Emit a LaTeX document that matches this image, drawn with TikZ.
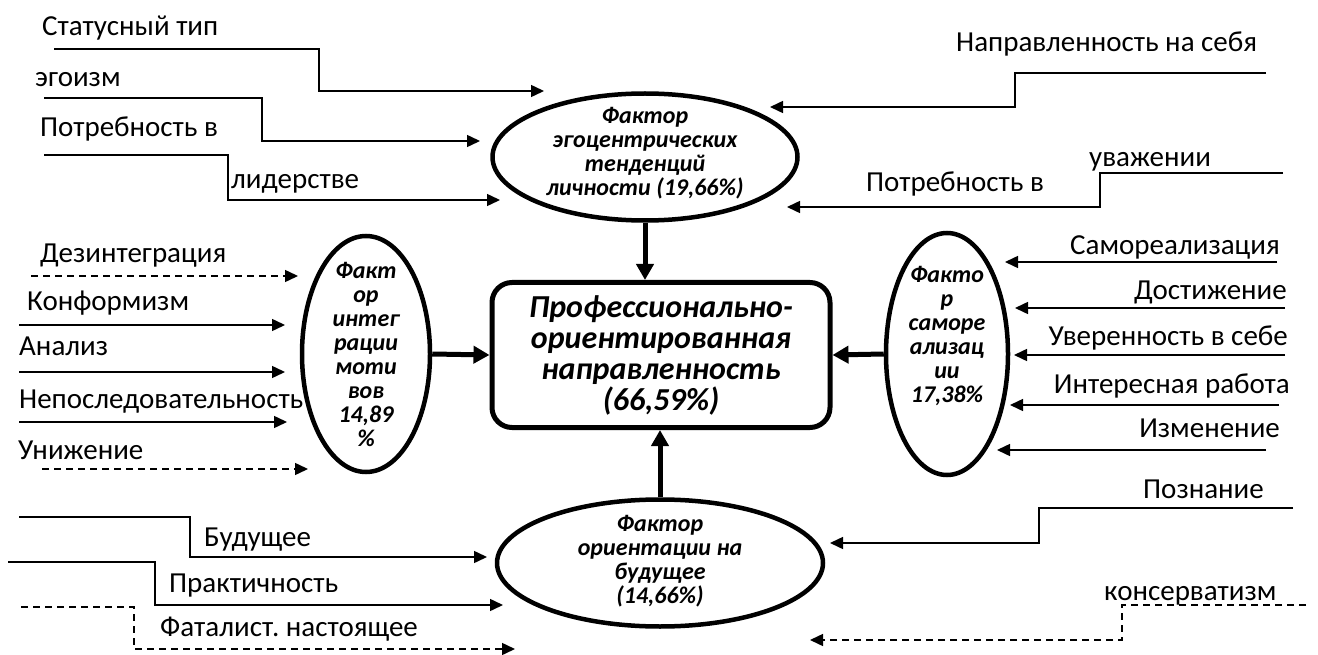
\documentclass[tikz,border=0pt]{standalone}
\usepackage{fontspec}
\setmainfont{Carlito}
\usetikzlibrary{shapes.geometric,arrows.meta}
\frenchspacing

\begin{document}
\begin{tikzpicture}[x=1pt,y=-1pt,
  lbl/.style={inner sep=0pt,font=\fontsize{29}{31}\selectfont,text height=19pt,text depth=1pt},
  fac/.style={ellipse,draw,line width=4.5pt,inner sep=0pt},
  factxt/.style={inner sep=0pt,align=center,font=\fontsize{24}{24}\selectfont\bfseries\itshape},
  inarr/.style={line width=1.5pt,-{Triangle[length=13pt,width=12pt]}},
  dsh/.style={inarr,dash pattern=on 7pt off 5pt},
  fat/.style={line width=5pt,-{Triangle[length=16pt,width=17pt]}}]
\useasboundingbox (0,0) rectangle (1318,655);
% central block and the four factors
\node[draw,line width=5pt,rounded corners=20pt,minimum width=338pt,minimum height=145pt,inner sep=0pt,align=center,font=\fontsize{32}{31}\selectfont\bfseries\itshape] (core) at (661,355) {Профессионально-\\ориентированная\\направленность\\(66,59\%)};
\node[fac,minimum width=305pt,minimum height=127pt] (e1) at (645,157) {};
\node[factxt] (e1t) at ([yshift=4pt]e1.center) {Фактор\\эгоцентрических\\тенденций\\личности (19,66\%)};
\node[fac,minimum width=128pt,minimum height=236pt] (e2) at (366,354) {};
\node[factxt] (e2t) at (e2.center) {Факт\\ор\\интег\\рации\\моти\\вов\\14,89\\\%};
\node[fac,minimum width=122pt,minimum height=242pt] (e3) at (947,354) {};
\node[factxt] (e3t) at ([yshift=18pt]e3.center) {Факто\\р\\саморе\\ализац\\ии\\17,38\%};
\node[fac,minimum width=326pt,minimum height=127pt] (e4) at (660,563) {};
\node[factxt] (e4t) at ([yshift=2pt]e4.center) {Фактор\\ориентации на\\будущее\\(14,66\%)};
\draw[fat] (e1.south) -- (e1.south |- core.north);
\draw[fat] (e2.east) -- (core.west);
\draw[fat] (e3.west) -- (core.east);
\draw[fat] (e4.north) -- (e4.north |- core.south);
% top left
\node[lbl,anchor=west] (l1) at (42,27) {Статусный тип};
\node[lbl,anchor=west] (l2) at (35,78) {эгоизм};
\node[lbl,anchor=west] (l3) at (40,128) {Потребность в};
\node[lbl,anchor=west] (l3b) at (231,180) {лидерстве};
\coordinate (s1) at (54,49); \coordinate (t1) at (544,91);
\coordinate (s2) at (44,98); \coordinate (t2) at (480,141);
\coordinate (s3) at (44,155); \coordinate (t3) at (500,200);
\draw[inarr] (s1) -| (319,91) -- (t1);
\draw[inarr] (s2) -| (262,141) -- (t2);
\draw[inarr] (s3) -| (228,200) -- (t3);
% top right
\node[lbl,anchor=west] (l4) at (956,43) {Направленность на себя};
\node[lbl,anchor=west] (l5) at (866,183) {Потребность в};
\node[lbl,anchor=west] (l5b) at (1089,158) {уважении};
\coordinate (s4) at (1266,73); \coordinate (t4) at (770,107);
\coordinate (s5) at (1283,173); \coordinate (t5) at (787,207);
\draw[inarr] (s4) -| (1015,107) -- (t4);
\draw[inarr] (s5) -| (1100,207) -- (t5);
% left
\node[lbl,anchor=west] (l6) at (40,253) {Дезинтеграция};
\node[lbl,anchor=west] (l7) at (27,302) {Конформизм};
\node[lbl,anchor=west] (l8) at (19,346) {Анализ};
\node[lbl,anchor=west] (l9) at (19,399) {Непоследовательность};
\node[lbl,anchor=west] (l10) at (18,450) {Унижение};
\coordinate (s6) at (31,276); \coordinate (t6) at (298,276);
\coordinate (s7) at (19,325); \coordinate (t7) at (285,325);
\coordinate (s8) at (19,372); \coordinate (t8) at (285,372);
\coordinate (s9) at (19,422); \coordinate (t9) at (287,422);
\coordinate (s10) at (42,469); \coordinate (t10) at (308,469);
\draw[dsh] (s6) -- (t6);
\draw[inarr] (s7) -- (t7);
\draw[inarr] (s8) -- (t8);
\draw[inarr] (s9) -- (t9);
\draw[dsh] (s10) -- (t10);
% right
\node[lbl,anchor=east] (l11) at (1280,246) {Самореализация};
\node[lbl,anchor=east] (l12) at (1287,291) {Достижение};
\node[lbl,anchor=east] (l13) at (1288,336) {Уверенность в себе};
\node[lbl,anchor=east] (l14) at (1290,384) {Интересная работа};
\node[lbl,anchor=east] (l15) at (1280,428) {Изменение};
\coordinate (s11) at (1277,262); \coordinate (t11) at (1005,262);
\coordinate (s12) at (1285,308); \coordinate (t12) at (1015,308);
\coordinate (s13) at (1285,355); \coordinate (t13) at (1014,355);
\coordinate (s14) at (1279,405); \coordinate (t14) at (1010,405);
\coordinate (s15) at (1266,450); \coordinate (t15) at (997,450);
\draw[inarr] (s11) -- (t11);
\draw[inarr] (s12) -- (t12);
\draw[inarr] (s13) -- (t13);
\draw[inarr] (s14) -- (t14);
\draw[inarr] (s15) -- (t15);
% bottom left
\node[lbl,anchor=west] (l16) at (204,537) {Будущее};
\node[lbl,anchor=west] (l17) at (169,583) {Практичность};
\node[lbl,anchor=west] (l18) at (160,627) {Фаталист. настоящее};
\coordinate (s16) at (19,517); \coordinate (t16) at (487,557);
\coordinate (s17) at (8,562); \coordinate (t17) at (503,605);
\coordinate (s18) at (21,607); \coordinate (t18) at (515,649);
\draw[inarr] (s16) -| (190,557) -- (t16);
\draw[inarr] (s17) -| (155,605) -- (t17);
\draw[dsh] (s18) -| (134,649) -- (t18);
% bottom right
\node[lbl,anchor=west] (l19) at (1143,489) {Познание};
\node[lbl,anchor=west] (l20) at (1104,591) {консерватизм};
\coordinate (s19) at (1293,508); \coordinate (t19) at (830,543);
\coordinate (s20) at (1306,605); \coordinate (t20) at (810,640);
\draw[inarr] (s19) -| (1039,543) -- (t19);
\draw[dsh] (s20) -| (1122,640) -- (t20);
\end{tikzpicture}
\end{document}
